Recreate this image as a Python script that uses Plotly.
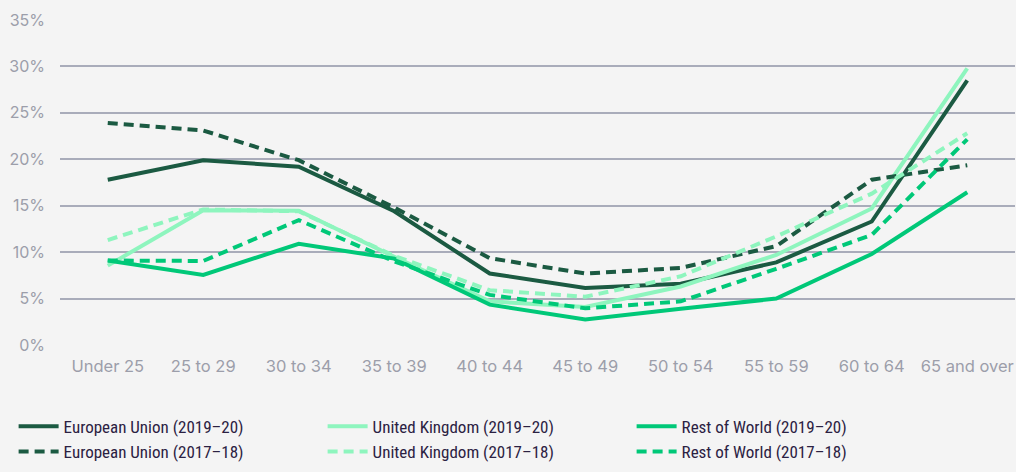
import plotly.graph_objects as go

categories = ["Under 25", "25 to 29", "30 to 34", "35 to 39", "40 to 44",
              "45 to 49", "50 to 54", "55 to 59", "60 to 64", "65 and over"]

eu_2019 = [17.8, 19.9, 19.2, 14.4, 7.7, 6.15, 6.6, 8.9, 13.3, 28.5]
eu_2017 = [23.9, 23.1, 19.9, 14.8, 9.35, 7.7, 8.3, 10.65, 17.8, 19.35]
uk_2019 = [8.55, 14.5, 14.45, 9.5, 4.7, 4.1, 6.3, 9.7, 14.7, 29.8]
uk_2017 = [11.3, 14.6, 14.4, 9.6, 5.9, 5.2, 7.4, 11.7, 16.3, 22.8]
row_2019 = [9.1, 7.55, 10.9, 9.3, 4.35, 2.75, 3.9, 5.0, 9.8, 16.45]
row_2017 = [9.1, 9.05, 13.45, 9.0, 5.4, 3.95, 4.7, 8.2, 11.85, 22.15]

y_ticks = [0, 5, 10, 15, 20, 25, 30, 35]
y_tick_labels = [f"{v}%" for v in y_ticks]

EU_C = "#1b5a42"
UK_C = "#8ef5be"
ROW_C = "#00c878"

series = [
    ("European Union (2019\u201320)", eu_2019, EU_C, "solid"),
    ("United Kingdom (2019\u201320)", uk_2019, UK_C, "solid"),
    ("Rest of World (2019\u201320)", row_2019, ROW_C, "solid"),
    ("European Union (2017\u201318)", eu_2017, EU_C, "10px,6px"),
    ("United Kingdom (2017\u201318)", uk_2017, UK_C, "10px,6px"),
    ("Rest of World (2017\u201318)", row_2017, ROW_C, "10px,6px"),
]

fig = go.Figure()
for name, vals, color, dash in series:
    fig.add_trace(go.Scatter(
        x=categories, y=vals, name=name, mode="lines",
        line=dict(color=color, width=4, dash=dash),
    ))

fig.update_layout(
    width=1016, height=472,
    paper_bgcolor="#f4f4f4", plot_bgcolor="#f4f4f4",
    margin=dict(l=60, r=1, t=20, b=127, autoexpand=False),
    font=dict(family="Inter, Lato, sans-serif", size=15, color="#9c9eaa"),
    showlegend=True,
    legend=dict(
        orientation="h", xref="container", yref="container",
        x=0.0134, xanchor="left", y=0.134, yanchor="top",
        entrywidth=254, entrywidthmode="pixels",
        font=dict(family="Liberation Sans Narrow, Roboto Condensed, Roboto, sans-serif",
                  size=17, color="#2b2142"),
        itemwidth=40, tracegroupgap=0, bgcolor="rgba(0,0,0,0)",
    ),
    xaxis=dict(
        type="category", range=[-0.5, 9.5], showgrid=False, zeroline=False,
        showline=False, ticks="", ticklabelstandoff=9,
        tickfont=dict(size=16.5, color="#9c9eaa"),
    ),
    yaxis=dict(
        range=[0, 35], tickvals=y_ticks, ticktext=y_tick_labels,
        showgrid=True, gridcolor="#a9acba", gridwidth=1.5,
        zeroline=False, showline=False, ticks="", ticklabelstandoff=14,
        tickfont=dict(size=16, color="#9c9eaa"),
    ),
)

fig.write_html("out.html")
